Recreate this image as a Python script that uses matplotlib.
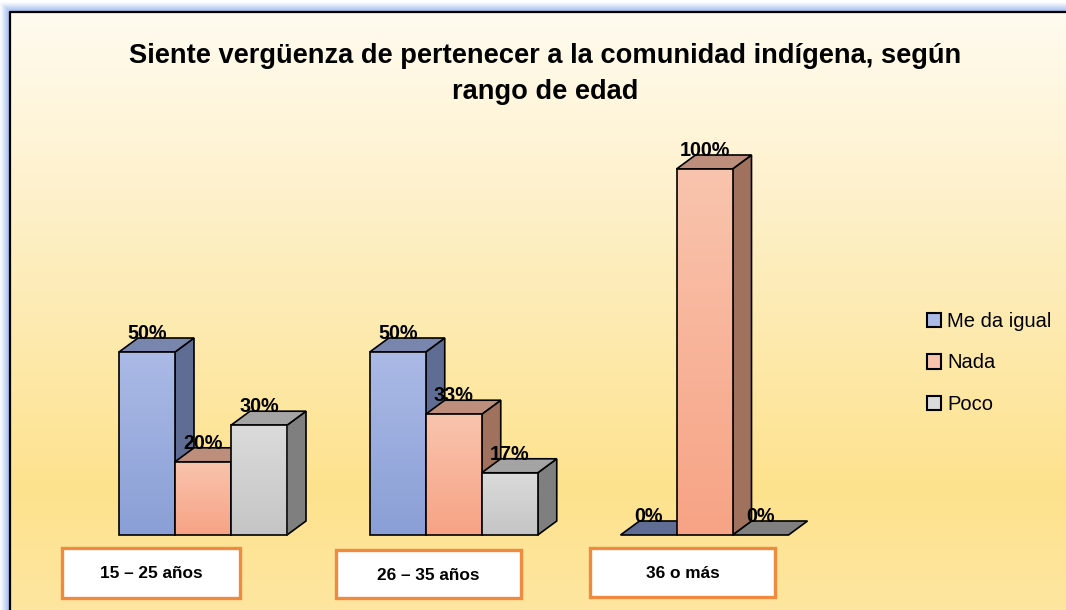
import matplotlib
matplotlib.use('Agg')
import matplotlib.pyplot as plt
import numpy as np
from matplotlib.patches import Rectangle, Polygon, Patch
from matplotlib.colors import LinearSegmentedColormap

# data
categories = ['15 – 25 años', '26 – 35 años', '36 o más']
series = ['Me da igual', 'Nada', 'Poco']
me_da_igual = [50, 50, 0]
nada = [20, 33, 100]
poco = [30, 17, 0]
values = [me_da_igual, nada, poco]

title_l1 = 'Siente vergüenza de pertenecer a la comunidad indígena, según'
title_l2 = 'rango de edad'

# colours: front top, front bottom, side, top face
styles = [
    ('#abbae6', '#8a9fd6', '#5f6c93', '#7886ad'),
    ('#f9c4ad', '#f7a385', '#a0725e', '#bc8e7b'),
    ('#dbdbdb', '#c5c5c5', '#7f7f7f', '#a4a4a4'),
]

FONT = ['Liberation Sans', 'DejaVu Sans']
W, H = 1066, 610

fig = plt.figure(figsize=(W / 100, H / 100), dpi=100)

# background layer in pixel coordinates
bg = fig.add_axes([0, 0, 1, 1], zorder=0)
bg.set_xlim(0, W)
bg.set_ylim(H, 0)
bg.axis('off')

bg_cmap = LinearSegmentedColormap.from_list(
    'bg', [(0, '#fffbef'), (0.3, '#fef1cc'), (0.8, '#fde28d'), (1.0, '#fee6a0')])
grad = np.linspace(0, 1, 256).reshape(-1, 1)
frame = Rectangle((10, 12), W + 20, H, facecolor='none', edgecolor='none')
bg.add_patch(frame)
im = bg.imshow(grad, cmap=bg_cmap, extent=[10, W + 10, H, 12], aspect='auto', zorder=1)
im.set_clip_path(frame)

# blue glow outside frame
glow = LinearSegmentedColormap.from_list('glow', ['#ffffff', '#8fb0e8'])
for k in range(1, 10):
    c = glow(1 - k / 10)
    bg.plot([10 - k, 10 - k], [12 - k, H + 5], color=c, lw=1.2, zorder=2, solid_capstyle='butt')
    bg.plot([10 - k, W + 5], [12 - k, 12 - k], color=c, lw=1.2, zorder=2, solid_capstyle='butt')
bg.plot([10, 10, W + 5], [H + 5, 12, 12], color='black', lw=1.6, zorder=3)

bg.text(545, 63, title_l1, ha='center', va='baseline', fontsize=19.6,
        fontweight='bold', family=FONT, zorder=5)
bg.text(545, 99, title_l2, ha='center', va='baseline', fontsize=19.6,
        fontweight='bold', family=FONT, zorder=5)

# category boxes
boxes = [(62, 548, 178, 50), (336, 550, 185, 48), (590, 548, 185, 49)]
for (bx, by, bw, bh), cat in zip(boxes, categories):
    bg.add_patch(Rectangle((bx, by), bw, bh, facecolor='white', edgecolor='#ef8a3e',
                           lw=2.4, zorder=4))
    bg.text(bx + bw / 2, by + bh / 2 + 1, cat, ha='center', va='center', fontsize=12.4,
            fontweight='bold', family=FONT, zorder=5)

# main chart axes
spacing = 250.75
x0 = 203
ax = fig.add_axes([0, 1 - 535 / H, 1, 366 / H], zorder=2)
ax.patch.set_alpha(0)
ax.axis('off')
bw = 56 / spacing
dx = 19 / spacing
dy = 14 / 366 * 100
lw = 1.2

vgrad = np.linspace(0, 1, 128).reshape(-1, 1)
for i in range(len(categories)):
    for j in range(len(series)):
        v = values[j][i]
        ftop, fbot, side, topc = styles[j]
        xl = i + (j - 1) * bw - bw / 2
        xr = xl + bw
        z = 3 + i * 10 + j * 3
        if v > 0:
            # side face
            ax.add_patch(Polygon([(xr, 0), (xr + dx, dy), (xr + dx, v + dy), (xr, v)],
                                 closed=True, facecolor=side, edgecolor='black', lw=lw,
                                 zorder=z, clip_on=False))
            # top face
            ax.add_patch(Polygon([(xl, v), (xl + dx, v + dy), (xr + dx, v + dy), (xr, v)],
                                 closed=True, facecolor=topc, edgecolor='black', lw=lw,
                                 zorder=z, clip_on=False))
            # front face with gradient
            front = Rectangle((xl, 0), bw, v, facecolor='none', edgecolor='black', lw=lw,
                              zorder=z + 2, clip_on=False)
            ax.add_patch(front)
            cm = LinearSegmentedColormap.from_list('f%d' % j, [ftop, fbot])
            fim = ax.imshow(vgrad, cmap=cm, extent=[xl, xr, 0, v], aspect='auto',
                            origin='upper', zorder=z + 1)
            fim.set_clip_path(front)
        else:
            ax.add_patch(Polygon([(xl, 0), (xl + dx, dy), (xr + dx, dy), (xr, 0)],
                                 closed=True, facecolor=side, edgecolor='black', lw=lw,
                                 zorder=2, clip_on=False))
        ax.text((xl + xr) / 2, v + dy - 0.3, '%d%%' % v, ha='center', va='baseline',
                fontsize=14.2, fontweight='bold', family=FONT, zorder=40)

ax.set_xlim(-x0 / spacing, (W - x0) / spacing)
ax.set_ylim(0, 100)

handles = [Patch(facecolor=s[0], edgecolor='black', lw=1.5) for s in styles]
leg = ax.legend(handles, series, loc='center left',
                bbox_to_anchor=(927 / W, 1 - 363 / H), bbox_transform=fig.transFigure,
                frameon=False, borderpad=0, borderaxespad=0,
                handlelength=0.7, handleheight=0.7, handletextpad=0.3,
                labelspacing=1.12, prop={'family': FONT, 'size': 14.5})

fig.savefig('out.png', dpi=100)
